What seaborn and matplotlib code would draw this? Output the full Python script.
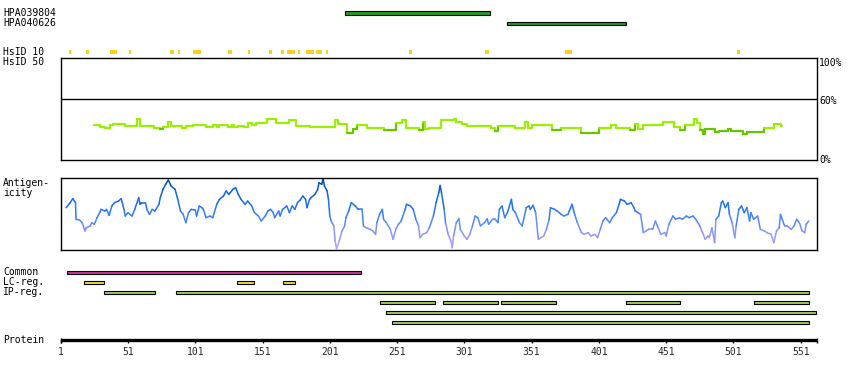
import numpy as np
import pandas as pd
import matplotlib
matplotlib.use("Agg")
import matplotlib.pyplot as plt
import seaborn as sns
from matplotlib.colors import LinearSegmentedColormap

# ---------------- data ----------------
protein_length = 563
tick_residues = [1, 51, 101, 151, 201, 251, 301, 351, 401, 451, 501, 551]

hpa_names = ["HPA039804", "HPA040626"]
hpa_start = [212, 333]
hpa_end = [320, 421]

hsid10_start = [7, 20, 38, 52, 82, 88, 99, 125, 140, 156, 165, 169, 177, 183, 191, 198, 260, 316, 376, 504]
hsid10_end = [9, 22, 43, 53.5, 85, 90, 105, 128, 142, 158, 167, 175, 179, 189, 195, 200, 262, 319, 381, 506]

hsid50_res = [26, 30, 34, 38, 40, 49, 58, 60, 70, 75, 77, 81, 83, 91, 94, 99, 109, 114, 117, 119,
              125, 128, 130, 133, 137, 140, 143, 146, 154, 161, 171, 176, 186, 205, 207, 214, 218,
              221, 229, 241, 250, 255, 258, 267, 270, 272, 275, 284, 293, 295, 299, 303, 321, 324,
              326, 339, 346, 348, 351, 366, 373, 388, 401, 410, 414, 424, 428, 430, 434, 449, 457,
              461, 465, 472, 474, 476, 478, 480, 487, 490, 497, 499, 508, 511, 524, 531, 536, 537]
hsid50_pct = [34.7, 32.8, 31.8, 34.1, 35.1, 33.1, 40.6, 33.1, 31.8, 30.2, 32.4, 37.4, 33.1, 31.8,
              33.1, 34.7, 32.1, 34.1, 32.4, 34.7, 32.4, 34.1, 32.1, 33.4, 32.8, 36.4, 34.1, 36.4,
              40.6, 36.4, 39.3, 33.4, 32.8, 39.3, 35.1, 26.9, 30.2, 34.1, 31.8, 29.2, 36.7, 39.3,
              31.8, 29.2, 37.4, 30.8, 31.8, 39.0, 40.0, 37.4, 35.1, 33.4, 31.5, 28.2, 33.1, 31.8,
              37.4, 31.5, 34.7, 29.2, 31.8, 26.9, 31.8, 34.7, 31.8, 29.2, 35.4, 30.8, 34.7, 37.4,
              32.4, 29.2, 34.7, 40.0, 36.4, 29.2, 25.9, 30.2, 27.5, 28.2, 30.2, 28.2, 25.9, 27.5,
              31.5, 35.1, 33.4, 33.4]

antigen_res = [5, 7, 8, 10, 12, 12.4, 15, 17, 19, 20, 23, 24, 26, 28, 30, 31, 34, 35, 37, 39, 41,
               44, 46, 48, 49, 51, 54, 56, 59, 60, 61, 64, 65, 67, 69, 71, 74, 75, 77, 79, 81, 83,
               86, 88, 90, 92, 94, 96, 98, 101, 102, 104, 106, 107, 109, 112, 114, 117, 119, 122,
               124, 126, 129, 131, 133, 135, 138, 140, 143, 145, 148, 150, 153, 155, 157, 159, 160,
               163, 164, 166, 169, 171, 173, 175, 177, 179, 181, 183, 184, 186, 187, 190, 192, 193,
               195, 196, 197, 199, 200, 201, 202, 204, 205, 206, 208, 210, 212, 213, 215, 217, 220,
               222, 225, 226, 228, 231, 233, 235, 236, 238, 240, 241, 243, 246, 248, 250, 252, 254,
               257, 258, 261, 263, 265, 267, 268, 270, 273, 275, 278, 280, 282, 283, 284, 286, 287,
               289, 291, 292, 293, 295, 297, 298, 301, 303, 305, 307, 309, 311, 313, 316, 318, 319,
               322, 324, 326, 327, 329, 331, 333, 336, 337, 339, 342, 344, 347, 349, 350, 352, 354,
               356, 358, 360, 362, 364, 365, 368, 370, 373, 375, 378, 379, 381, 383, 385, 388, 390,
               393, 395, 398, 400, 402, 404, 406, 409, 411, 414, 416, 417, 420, 422, 425, 427, 428,
               430, 432, 434, 436, 438, 441, 443, 445, 447, 450, 451, 453, 456, 458, 461, 463, 466,
               468, 471, 473, 476, 478, 480, 482, 483, 485, 487, 488, 490, 492, 493, 495, 497, 498,
               500, 502, 503, 505, 507, 509, 511, 513, 514, 516, 519, 521, 524, 526, 529, 531, 533,
               535, 536, 539, 541, 544, 546, 548, 550, 552, 554, 555, 557]
antigen_val = [0.590, 0.637, 0.660, 0.716, 0.660, 0.428, 0.418, 0.381, 0.265, 0.311, 0.335, 0.381,
               0.358, 0.451, 0.521, 0.567, 0.544, 0.567, 0.483, 0.614, 0.660, 0.683, 0.716, 0.567,
               0.474, 0.521, 0.474, 0.567, 0.730, 0.637, 0.660, 0.660, 0.567, 0.497, 0.567, 0.544,
               0.637, 0.730, 0.846, 0.916, 0.976, 0.893, 0.846, 0.707, 0.544, 0.497, 0.381, 0.521,
               0.567, 0.558, 0.474, 0.614, 0.590, 0.567, 0.451, 0.474, 0.451, 0.637, 0.707, 0.753,
               0.823, 0.776, 0.846, 0.869, 0.776, 0.707, 0.637, 0.683, 0.614, 0.521, 0.474, 0.404,
               0.474, 0.544, 0.567, 0.521, 0.451, 0.544, 0.474, 0.567, 0.614, 0.521, 0.614, 0.567,
               0.660, 0.697, 0.753, 0.707, 0.590, 0.707, 0.730, 0.776, 0.846, 0.939, 0.916, 0.995,
               0.893, 0.823, 0.707, 0.474, 0.404, 0.335, 0.125, 0.018, 0.125, 0.265, 0.335, 0.451,
               0.544, 0.660, 0.614, 0.567, 0.567, 0.335, 0.311, 0.288, 0.265, 0.218, 0.381, 0.497,
               0.567, 0.428, 0.381, 0.288, 0.149, 0.288, 0.358, 0.404, 0.567, 0.637, 0.614, 0.567,
               0.428, 0.335, 0.172, 0.218, 0.242, 0.311, 0.474, 0.660, 0.800, 0.900, 0.800, 0.567,
               0.381, 0.218, 0.125, 0.032, 0.195, 0.381, 0.437, 0.288, 0.195, 0.149, 0.218, 0.335,
               0.474, 0.451, 0.335, 0.381, 0.437, 0.358, 0.428, 0.428, 0.381, 0.567, 0.614, 0.451,
               0.521, 0.707, 0.567, 0.521, 0.381, 0.335, 0.590, 0.614, 0.567, 0.623, 0.521, 0.149,
               0.172, 0.195, 0.288, 0.428, 0.590, 0.567, 0.544, 0.497, 0.474, 0.497, 0.544, 0.637,
               0.497, 0.381, 0.242, 0.218, 0.242, 0.195, 0.218, 0.172, 0.288, 0.404, 0.451, 0.381,
               0.451, 0.521, 0.637, 0.707, 0.683, 0.637, 0.660, 0.590, 0.544, 0.521, 0.497, 0.242,
               0.265, 0.288, 0.288, 0.404, 0.311, 0.218, 0.242, 0.195, 0.358, 0.474, 0.428, 0.451,
               0.428, 0.474, 0.451, 0.474, 0.428, 0.335, 0.242, 0.149, 0.195, 0.172, 0.311, 0.102,
               0.428, 0.474, 0.660, 0.683, 0.590, 0.660, 0.497, 0.381, 0.172, 0.335, 0.567, 0.614,
               0.521, 0.590, 0.404, 0.521, 0.428, 0.474, 0.288, 0.265, 0.242, 0.218, 0.102, 0.265,
               0.311, 0.497, 0.335, 0.335, 0.288, 0.335, 0.428, 0.381, 0.265, 0.242, 0.358, 0.404]

common_start = [6]
common_end = [224]
lc_start = [18, 132, 166]
lc_end = [33, 145, 175]
ip_start = [33, 87, 238, 285, 328, 421, 516, 243, 247]
ip_end = [71, 557, 279, 326, 369, 461, 557, 562, 557]
ip_row = [0, 0, 1, 1, 1, 1, 1, 2, 3]

# ---------------- layout helpers ----------------
W, H = 850, 380
PX0, PXR = 60.7, 1.3455           # pixel of residue 1, pixels per residue
def xr(px):
    return 1 + (px - PX0) / PXR
BOX_RIGHT = xr(816.7)

sns.set_style("white")
plt.rcParams["font.family"] = ["DejaVu Sans Mono", "DejaVu Sans"]
FS = 7

fig = plt.figure(figsize=(W / 100, H / 100), dpi=100)
ax0 = fig.add_axes([0, 0, 1, 1])
ax0.set_xlim(xr(0), xr(W))
ax0.set_ylim(H, 0)
ax0.axis("off")

def label(px, py, s, **kw):
    fig.text(px / W, 1 - py / H, s, fontsize=FS, va="center", color="black", **kw)

# left labels
label(3, 13.3, "HPA039804")
label(3, 23.2, "HPA040626")
label(3, 52.3, "HsID 10")
label(3, 62.3, "HsID 50")
label(3, 183.3, "Antigen-")
label(3, 193.3, "icity")
label(3, 272.3, "Common")
label(3, 282.3, "LC-reg.")
label(3, 292.3, "IP-reg.")
label(3, 340.0, "Protein")
label(819.3, 62.7, "100%")
label(819.3, 100.7, "60%")
label(819.3, 160.0, "0%")

def ranges(ax, starts, ends, y, h, color, edge=True):
    s = np.array(starts, float)
    e = np.array(ends, float)
    ax.barh(y=y, width=e - s, left=s, height=h, color=color,
            edgecolor="black" if edge else "none", linewidth=0.8 if edge else 0,
            align="center")

# HPA antigen bars
ranges(ax0, hpa_start, hpa_end, [13.0, 23.5], 3.4, "#1e9e1e")
# HsID 10 marks
ranges(ax0, hsid10_start, hsid10_end, [52.2] * len(hsid10_start), 4.3, "#ffcc22", edge=False)
# features
ranges(ax0, common_start, common_end, [272.3], 3.4, "#cc3399")
ranges(ax0, lc_start, lc_end, [282.3] * len(lc_start), 3.4, "#eedd44")
ranges(ax0, ip_start, ip_end, [292.3 + 10 * r for r in ip_row], 3.4, "#a0cc5c")

# protein axis
ax0.plot([1, BOX_RIGHT], [339.7, 339.7], color="black", lw=2.4, solid_capstyle="butt")
ax0.vlines(tick_residues, 339.7, 343.4, color="black", lw=1.0)
ax0.vlines([1, BOX_RIGHT], 338.0, 343.4, color="black", lw=1.0)
for t in tick_residues:
    ax0.text(t, 351.7, str(t), fontsize=FS, ha="center", va="center")

def step_df(xs, ys):
    rows = []
    for i in range(len(xs) - 1):
        seg = f"s{i:03d}"
        rows.append((xs[i], ys[i], seg))
        rows.append((xs[i + 1], ys[i], seg))
        rows.append((xs[i + 1], ys[i + 1], seg))
    return pd.DataFrame(rows, columns=["x", "y", "seg"])

def line_df(xs, ys):
    rows = []
    for i in range(len(xs) - 1):
        seg = f"s{i:03d}"
        rows.append((xs[i], ys[i], seg))
        rows.append((xs[i + 1], ys[i + 1], seg))
    return pd.DataFrame(rows, columns=["x", "y", "seg"])

def frame(ax):
    ax.set_xlim(1, BOX_RIGHT)
    ax.set_xticks([])
    ax.set_yticks([])
    ax.set_xlabel("")
    ax.set_ylabel("")
    for sp in ax.spines.values():
        sp.set_visible(True)
        sp.set_color("black")
        sp.set_linewidth(1.0)
    ax.patch.set_alpha(0)

# HsID 50 panel
ax1 = fig.add_axes([PX0 / W, 1 - 160 / H, 756 / W, 101.7 / H])
df1 = step_df(hsid50_res, hsid50_pct)
pal1 = {}
for i in range(len(hsid50_res) - 1):
    pal1[f"s{i:03d}"] = "#66c400" if hsid50_pct[i] < 30.5 else "#99f000"
sns.lineplot(data=df1, x="x", y="y", hue="seg", palette=pal1, estimator=None, sort=False,
             legend=False, linewidth=1.6, ax=ax1)
ax1.axhline(60, color="black", lw=1.0)
ax1.set_ylim(0, 100)
frame(ax1)

# Antigenicity panel
ax2 = fig.add_axes([PX0 / W, 1 - 250 / H, 756 / W, 71.7 / H])
cmap = LinearSegmentedColormap.from_list(
    "ag", [(0.0, "#b2a6ff"), (0.25, "#8a94ff"), (0.42, "#4c86ff"),
           (0.6, "#1f70ff"), (0.8, "#0c62e0"), (1.0, "#0046a0")])
df2 = line_df(antigen_res, antigen_val)
pal2 = {}
for i in range(len(antigen_res) - 1):
    pal2[f"s{i:03d}"] = cmap(0.5 * (antigen_val[i] + antigen_val[i + 1]))
sns.lineplot(data=df2, x="x", y="y", hue="seg", palette=pal2, estimator=None, sort=False,
             legend=False, linewidth=1.1, ax=ax2)
ax2.set_ylim(0, 1)
frame(ax2)

fig.savefig("out.png", dpi=100)
